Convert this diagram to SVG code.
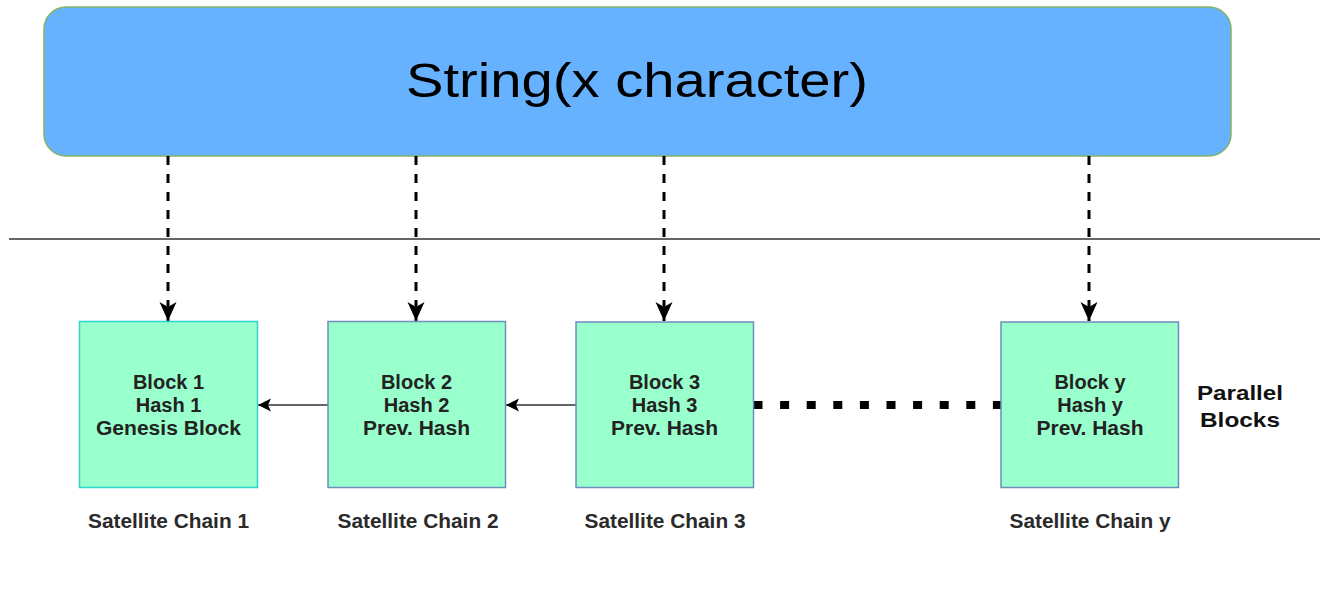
<svg xmlns="http://www.w3.org/2000/svg" width="1323" height="601" viewBox="0 0 1323 601">
<defs>
<style>
.blk{fill:#99FFCC;stroke:#6C8EBF;stroke-width:1.5}
.btxt{font-family:"Liberation Sans",Arial,sans-serif;font-size:20px;font-weight:bold;fill:#222;text-anchor:middle}
.lbl{font-family:"Liberation Sans",Arial,sans-serif;font-size:20px;font-weight:bold;fill:#2a2a2a;text-anchor:middle}
.dash{stroke:#000;stroke-width:3;stroke-dasharray:9 9;fill:none}
.solid{stroke:#333;stroke-width:1.5;fill:none}
</style>
<marker id="bigHead" viewBox="-1 -10 21 20" refX="19" refY="0" markerWidth="21" markerHeight="20" markerUnits="userSpaceOnUse" orient="auto">
<path d="M0,-8.5 L19,0 L0,8.5 L5,0 Z" fill="#000"/>
</marker>
<marker id="smallHead" viewBox="-1 -7 15 14" refX="13" refY="0" markerWidth="15" markerHeight="14" markerUnits="userSpaceOnUse" orient="auto">
<path d="M0,-6.5 L13,0 L0,6.5 L3,0 Z" fill="#000"/>
</marker>
</defs>
<rect width="1323" height="601" fill="#fff"/>

<g id="string">
<rect x="44" y="7" width="1187" height="149" rx="22" ry="22" fill="#66B2FF" stroke="#82B366" stroke-width="1.5"/>
<text x="637" y="97" font-family="'Liberation Sans',Arial,sans-serif" font-size="48" fill="#000" text-anchor="middle" textLength="462" lengthAdjust="spacingAndGlyphs">String(x character)</text>
</g>

<g id="divider">
<line x1="9" y1="239" x2="1320" y2="239" stroke="#333" stroke-width="1.5"/>
</g>

<g id="connectors">
<line class="dash" x1="168" y1="156" x2="168" y2="321" marker-end="url(#bigHead)"/>
<line class="dash" x1="416" y1="156" x2="416" y2="321" marker-end="url(#bigHead)"/>
<line class="dash" x1="664" y1="156" x2="664" y2="321" marker-end="url(#bigHead)"/>
<line class="dash" x1="1089" y1="156" x2="1089" y2="321" marker-end="url(#bigHead)"/>
<line class="solid" x1="328" y1="405" x2="258" y2="405" marker-end="url(#smallHead)"/>
<line class="solid" x1="576" y1="405" x2="506" y2="405" marker-end="url(#smallHead)"/>
<line x1="753.5" y1="405" x2="1001" y2="405" stroke="#000" stroke-width="8" stroke-dasharray="9 17.6"/>
</g>

<g id="block1">
<rect x="79.5" y="321.5" width="178" height="166" fill="#99FFCC" stroke="#2ED3D3" stroke-width="1.5"/>
<text class="btxt" x="168.5" y="389">Block 1</text>
<text class="btxt" x="168.5" y="412">Hash 1</text>
<text class="btxt" x="168.5" y="435" textLength="145" lengthAdjust="spacingAndGlyphs">Genesis Block</text>
</g>

<g id="block2">
<rect class="blk" x="328" y="321.5" width="177.5" height="166"/>
<text class="btxt" x="416.5" y="389">Block 2</text>
<text class="btxt" x="416.5" y="412">Hash 2</text>
<text class="btxt" x="416.5" y="435" textLength="107" lengthAdjust="spacingAndGlyphs">Prev. Hash</text>
</g>

<g id="block3">
<rect class="blk" x="576" y="322" width="177.5" height="165.5"/>
<text class="btxt" x="664.5" y="389">Block 3</text>
<text class="btxt" x="664.5" y="412">Hash 3</text>
<text class="btxt" x="664.5" y="435" textLength="107" lengthAdjust="spacingAndGlyphs">Prev. Hash</text>
</g>

<g id="blocky">
<rect class="blk" x="1001" y="322" width="177.5" height="165.5"/>
<text class="btxt" x="1090" y="389">Block y</text>
<text class="btxt" x="1090" y="412">Hash y</text>
<text class="btxt" x="1090" y="435" textLength="107" lengthAdjust="spacingAndGlyphs">Prev. Hash</text>
</g>

<g id="labels">
<text class="lbl" x="168.5" y="528" textLength="161" lengthAdjust="spacingAndGlyphs">Satellite Chain 1</text>
<text class="lbl" x="418" y="528" textLength="161" lengthAdjust="spacingAndGlyphs">Satellite Chain 2</text>
<text class="lbl" x="665" y="528" textLength="161" lengthAdjust="spacingAndGlyphs">Satellite Chain 3</text>
<text class="lbl" x="1090" y="528" textLength="161" lengthAdjust="spacingAndGlyphs">Satellite Chain y</text>
</g>

<g id="parallel">
<text x="1240" y="400" font-family="'Liberation Sans',Arial,sans-serif" font-size="21" font-weight="bold" fill="#111" text-anchor="middle" textLength="86" lengthAdjust="spacingAndGlyphs">Parallel</text>
<text x="1240" y="427" font-family="'Liberation Sans',Arial,sans-serif" font-size="21" font-weight="bold" fill="#111" text-anchor="middle" textLength="80" lengthAdjust="spacingAndGlyphs">Blocks</text>
</g>
</svg>
